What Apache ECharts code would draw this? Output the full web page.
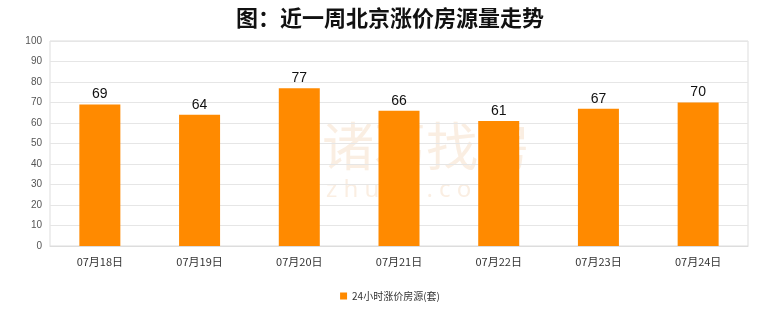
<!DOCTYPE html>
<html><head><meta charset="utf-8">
<script src="https://cdn.jsdelivr.net/npm/echarts@6/dist/echarts.min.js"></script>
<style>html,body{margin:0;padding:0;background:#fff}#c{width:780px;height:328px}</style>
</head><body><div id="c"></div>
<script>
const categories = ['07月18日','07月19日','07月20日','07月21日','07月22日','07月23日','07月24日'];
const values = [69, 64, 77, 66, 61, 67, 70];
const seriesName = '24小时涨价房源(套)';
const yTicks = {min: 0, max: 100, interval: 10};

const chart = echarts.init(document.getElementById('c'), null, {renderer: 'canvas'});
chart.setOption({
  backgroundColor: '#fff',
  animation: false,
  title: {
    text: '图：近一周北京涨价房源量走势',
    left: 'center', top: 2,
    textStyle: {fontFamily: 'Noto Sans CJK SC', fontSize: 22, fontWeight: 'bold', color: '#111'}
  },
  graphic: [
    {type: 'text', left: 322, top: 120, z: 0, silent: true,
     style: {text: '诸葛找房', fontFamily: 'Noto Sans CJK SC', fontSize: 52, fill: 'rgba(240,200,160,0.3)'}},
    {type: 'text', left: 326, top: 178, z: 0, silent: true,
     style: {text: 'z h u g e . c o m', fontFamily: 'Noto Sans', fontSize: 24, fill: 'rgba(240,200,160,0.3)'}}
  ],
  legend: {
    bottom: 22, left: 'center',
    itemWidth: 7, itemHeight: 7, icon: 'rect',
    textStyle: {fontSize: 10, color: '#333', fontFamily: 'Noto Sans CJK SC'},
    data: [seriesName]
  },
  grid: {left: 50, right: 32, top: 41, bottom: 82, show: true, borderColor: '#ddd', borderWidth: 1},
  xAxis: {
    type: 'category', data: categories,
    axisLine: {lineStyle: {color: '#ddd'}},
    axisTick: {show: false},
    axisLabel: {color: '#333', fontSize: 11, margin: 10, fontFamily: 'Noto Sans CJK SC'}
  },
  yAxis: {
    type: 'value', min: yTicks.min, max: yTicks.max, interval: yTicks.interval,
    axisLine: {show: false}, axisTick: {show: false},
    axisLabel: {color: '#555', fontSize: 10, margin: 8},
    splitLine: {lineStyle: {color: '#e6e6e6'}}
  },
  series: [{
    name: seriesName, type: 'bar', data: values,
    barWidth: 41,
    itemStyle: {color: '#FF8A00'},
    label: {show: true, position: 'top', color: '#111', fontSize: 14, distance: 3}
  }]
});
</script></body></html>
